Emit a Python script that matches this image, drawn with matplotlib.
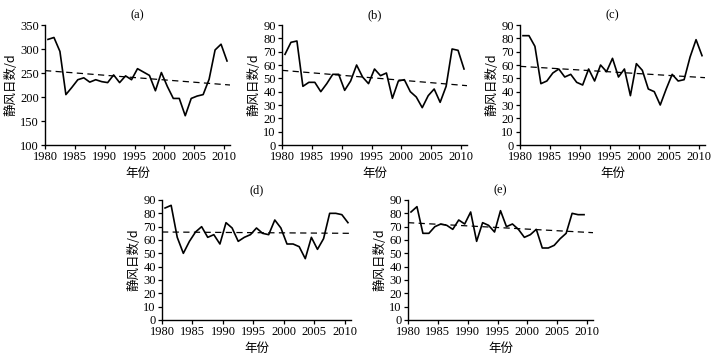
import numpy as np
import matplotlib.pyplot as plt

plt.rcParams['font.family'] = ['Liberation Serif', 'Noto Sans CJK SC']

# Calm-wind days per year
years = np.arange(1980, 2011)
calm_a = [320, 324, 295, 205, 220, 236, 240, 231, 236, 232, 230, 246, 230, 244, 236, 259,
          252, 245, 213, 251, 222, 197, 197, 161, 197, 202, 205, 237, 298, 310, 275]
calm_b = [68, 77, 78, 44, 47, 47, 40, 46, 53, 53, 41, 48, 60, 51, 46, 57,
          52, 54, 35, 48, 49, 40, 36, 28, 37, 42, 32, 44, 72, 71, 57]
calm_c = [82, 82, 74, 46, 48, 54, 57, 51, 53, 47, 45, 57, 48, 60, 55, 65,
          51, 57, 37, 61, 56, 42, 40, 30, 42, 53, 48, 49, 66, 79, 67]
calm_d = [84, 86, 62, 50, 59, 66, 70, 62, 64, 57, 73, 69, 59, 62, 64, 69,
          65, 64, 75, 69, 57, 57, 55, 46, 62, 53, 61, 80, 80, 79, 73]
calm_e = [81, 85, 65, 65, 70, 72, 71, 68, 75, 72, 81, 59, 73, 71, 66, 82,
          70, 72, 68, 62, 64, 68, 54, 54, 56, 61, 65, 80, 79, 79]

# Linear trend end values (at 1980 and 2011)
trend_x = [1980, 2011]
trend_a = [255, 225]
trend_b = [56, 44.5]
trend_c = [59, 50.5]
trend_d = [66, 65]
trend_e = [73, 65.5]

labels = ['(a)', '(b)', '(c)', '(d)', '(e)']
series = [calm_a, calm_b, calm_c, calm_d, calm_e]
trends = [trend_a, trend_b, trend_c, trend_d, trend_e]

W, H = 717, 360
fig = plt.figure(figsize=(W / 100, H / 100), dpi=100)

# axes boxes in pixels: left, top, right, bottom
boxes = [(45, 25, 230, 145), (282, 25, 467, 145), (520, 25, 705, 145),
         (162, 200, 351, 320), (408, 200, 593, 320)]

cjk = ['Noto Sans CJK SC', 'DejaVu Sans']

for lab, vals, tr, (l, t, r, b) in zip(labels, series, trends, boxes):
    ax = fig.add_axes([l / W, 1 - b / H, (r - l) / W, (b - t) / H])
    x = years[:len(vals)] + 0.5
    ax.plot(x, vals, color='black', lw=1.2)
    ax.plot(trend_x, tr, color='black', lw=0.9, ls=(0, (5, 3.5)))
    ax.set_xlim(1980, 2011)
    ax.set_xticks(range(1980, 2011, 5))
    if lab == '(a)':
        ax.set_ylim(100, 350)
        ax.set_yticks(range(100, 351, 50))
    else:
        ax.set_ylim(0, 90)
        ax.set_yticks(range(0, 91, 10))
    for s in ['top', 'right']:
        ax.spines[s].set_visible(False)
    for s in ['left', 'bottom']:
        ax.spines[s].set_linewidth(1.0)
    ax.tick_params(direction='out', length=3, width=0.9, labelsize=9, pad=1.5)
    ax.set_title(lab, fontsize=9, pad=5)
    ax.set_xlabel('年份', family=cjk, fontsize=9, labelpad=3)
    ax.set_ylabel('静风日数/d', family=cjk, fontsize=9, labelpad=2)

fig.savefig('out.png', dpi=100)
